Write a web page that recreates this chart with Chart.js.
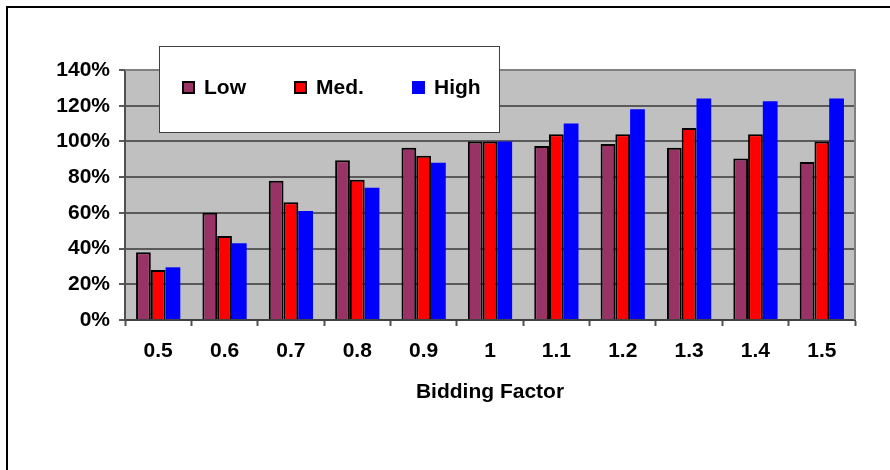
<!DOCTYPE html>
<html>
<head>
<meta charset="utf-8">
<script src="https://cdn.jsdelivr.net/npm/chart.js@4/dist/chart.umd.min.js"></script>
<style>
  html, body { margin: 0; padding: 0; background: #fff; }
  #wrap { width: 890px; height: 470px; position: relative; }
</style>
</head>
<body>
<div id="wrap"><canvas id="c" width="890" height="470"></canvas></div>
<script>
// Bidding factor categories
const categories = ['0.5', '0.6', '0.7', '0.8', '0.9', '1', '1.1', '1.2', '1.3', '1.4', '1.5'];

// Relative result (%) per scenario
const lowValues  = [38, 60, 78, 89.5, 96.5, 100, 97.5, 98.5, 96.5, 90.5, 88.5];
const medValues  = [28, 47, 66, 78.5, 92, 100, 104, 104, 107.5, 104, 100];
const highValues = [29.5, 43, 61, 74, 88, 100, 110, 118, 124, 122.5, 124];

// Y axis ticks
const yTicks = [0, 20, 40, 60, 80, 100, 120, 140];

const FONT = "'Liberation Sans', Arial, Helvetica, sans-serif";

// Draws the page frame, the grey plot background, the plot border and the boxed legend
const decorations = {
  id: 'decorations',
  beforeDraw(chart) {
    const { ctx, chartArea: a, width, height } = chart;
    ctx.save();
    ctx.fillStyle = '#ffffff';
    ctx.fillRect(0, 0, width, height);
    ctx.strokeStyle = '#000000';
    ctx.lineWidth = 2;
    ctx.beginPath();
    ctx.moveTo(7, height);
    ctx.lineTo(7, 7);
    ctx.lineTo(width, 7);
    ctx.stroke();
    ctx.fillStyle = '#c0c0c0';
    ctx.fillRect(a.left, a.top, a.right - a.left, a.bottom - a.top);
    ctx.restore();
  },
  beforeDatasetsDraw(chart) {
    const { ctx, chartArea: a } = chart;
    ctx.save();
    ctx.strokeStyle = '#808080';
    ctx.lineWidth = 2;
    ctx.beginPath();
    ctx.moveTo(a.left, a.top);
    ctx.lineTo(a.right, a.top);
    ctx.lineTo(a.right, a.bottom);
    ctx.stroke();
    ctx.restore();
  },
  afterDraw(chart) {
    const { ctx } = chart;
    ctx.save();
    // legend box
    ctx.fillStyle = '#ffffff';
    ctx.fillRect(159, 46, 340, 86);
    ctx.strokeStyle = '#404040';
    ctx.lineWidth = 1;
    ctx.strokeRect(159.5, 46.5, 340, 86);
    const itemX = [182, 294, 412];
    ctx.font = 'bold 21px ' + FONT;
    ctx.textBaseline = 'middle';
    ctx.textAlign = 'left';
    chart.data.datasets.forEach((ds, i) => {
      const x = itemX[i], y = 81;
      ctx.fillStyle = ds.backgroundColor;
      ctx.fillRect(x, y, 13, 13);
      if (ds.borderWidth > 0) {
        ctx.strokeStyle = '#000000';
        ctx.lineWidth = 2;
        ctx.strokeRect(x + 1, y + 1, 11, 11);
      }
      ctx.fillStyle = '#000000';
      ctx.fillText(ds.label, x + 22, 88);
    });
    ctx.restore();
  }
};

new Chart(document.getElementById('c'), {
  type: 'bar',
  data: {
    labels: categories,
    datasets: [
      { label: 'Low',  data: lowValues,  backgroundColor: '#993366', borderColor: '#000000', borderWidth: 2 },
      { label: 'Med.', data: medValues,  backgroundColor: '#ff0000', borderColor: '#000000', borderWidth: 2 },
      { label: 'High', data: highValues, backgroundColor: '#0000ff', borderColor: '#000000', borderWidth: 0 }
    ]
  },
  options: {
    responsive: false,
    animation: false,
    devicePixelRatio: 1,
    layout: { padding: { left: 0, top: 70, right: 35, bottom: 0 } },
    datasets: {
      bar: { categoryPercentage: 0.667, barPercentage: 1.0 }
    },
    plugins: {
      legend: { display: false },
      tooltip: { enabled: false },
      title: { display: false }
    },
    scales: {
      x: {
        offset: true,
        grid: {
          display: true,
          drawOnChartArea: false,
          drawTicks: true,
          tickLength: 6,
          tickColor: '#505050',
          tickWidth: 2
        },
        border: { display: true, color: '#404040', width: 2 },
        ticks: {
          color: '#000000',
          font: { family: FONT, size: 21, weight: 'bold' },
          padding: 13,
          maxRotation: 0,
          autoSkip: false
        },
        title: {
          display: true,
          text: 'Bidding Factor',
          color: '#000000',
          font: { family: FONT, size: 21, weight: 'bold' },
          padding: { top: 0, bottom: 65 }
        },
        afterFit(scale) { scale.height = 150; }
      },
      y: {
        min: 0,
        max: 140,
        afterBuildTicks(scale) { scale.ticks = yTicks.map(v => ({ value: v })); },
        grid: {
          color: '#5a5a5a',
          lineWidth: 2,
          drawTicks: true,
          tickLength: 6,
          tickColor: '#5a5a5a',
          tickWidth: 2
        },
        border: { display: true, color: '#505050', width: 2 },
        ticks: {
          color: '#000000',
          font: { family: FONT, size: 21, weight: 'bold' },
          padding: 9,
          callback: (v) => v + '%'
        },
        afterFit(scale) { scale.width = 125; }
      }
    }
  },
  plugins: [decorations]
});
</script>
</body>
</html>
